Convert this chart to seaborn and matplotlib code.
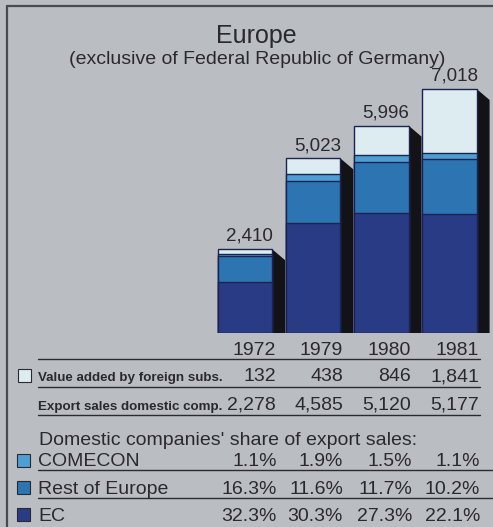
import matplotlib
matplotlib.use("Agg")
import matplotlib.pyplot as plt
from matplotlib.lines import Line2D
from matplotlib.patches import Rectangle, Polygon
import seaborn as sns
import pandas as pd

# ---------------- data ----------------
years = ["1972", "1979", "1980", "1981"]
totals = [2410, 5023, 5996, 7018]
foreign_subs = [132, 438, 846, 1841]
export_domestic = [2278, 4585, 5120, 5177]
share_comecon = [1.1, 1.9, 1.5, 1.1]
share_rest = [16.3, 11.6, 11.7, 10.2]
share_ec = [32.3, 30.3, 27.3, 22.1]
# segment values
seg_ec = [1480, 3172, 3451, 3425]
seg_rest = [747, 1214, 1479, 1581]
seg_comecon = [50, 199, 190, 171]
seg_foreign = [132, 438, 846, 1841]

# ---------------- style ----------------
sns.set_theme(style="white")
plt.rcParams["font.family"] = ["Liberation Sans", "DejaVu Sans"]

BG = "#babdc1"
C_EC = "#2a3b85"
C_REST = "#2c74b2"
C_COM = "#4d9ed2"
C_FOR = "#dcecf1"
EDGE = "#1b2350"
TXT = "#2a2a2e"

W, H = 493, 527
fig = plt.figure(figsize=(W / 100, H / 100), dpi=100, facecolor=BG)

def fx(x):
    return x / W

def fy(y):
    return 1 - y / H

# ---------------- bars ----------------
px_per_unit = 244 / 7018
ax = fig.add_axes([fx(200), fy(333), fx(293), 273 / H])
ax.patch.set_visible(False)

df = pd.DataFrame({
    "year": years,
    "ec": seg_ec,
    "rest": seg_rest,
    "com": seg_comecon,
    "for": seg_foreign,
})
df["c1"] = df["ec"]
df["c2"] = df["c1"] + df["rest"]
df["c3"] = df["c2"] + df["com"]
df["c4"] = df["c3"] + df["for"]

for col, color in [("c4", C_FOR), ("c3", C_COM), ("c2", C_REST), ("c1", C_EC)]:
    sns.barplot(data=df, x="year", y=col, order=years, color=color,
                saturation=1, width=0.8, edgecolor=EDGE, linewidth=1.0,
                errorbar=None, ax=ax, zorder=3)

# shadows (side faces)
dx = 0.19
dy = 11 / px_per_unit
for i, h in enumerate(df["c4"]):
    xr = i + 0.4
    ax.add_patch(Polygon([(xr, h), (xr + dx, h - dy), (xr + dx, 0), (xr, 0)],
                         closed=True, facecolor="#131317", edgecolor="none", zorder=2))
    ax.annotate(f"{totals[i]:,}", (i + 0.07, h), xytext=(0, 6), textcoords="offset points",
                ha="center", va="baseline", fontsize=13.5, color=TXT)

ax.set_xlim(-0.66, 3.64)
ax.set_ylim(0, 273 / px_per_unit)
ax.axis("off")

# ---------------- title ----------------
fig.text(fx(256), fy(43), "Europe", ha="center", va="baseline", fontsize=18, color=TXT)
fig.text(fx(257), fy(64), "(exclusive of Federal Republic of Germany)", ha="center",
         va="baseline", fontsize=14, color=TXT)

# ---------------- frame ----------------
fig.add_artist(Line2D([fx(7), fx(7)], [fy(6), fy(H + 2)], color="#4a4a50", lw=1.6,
                      transform=fig.transFigure))
fig.add_artist(Line2D([fx(7), fx(W + 2)], [fy(6), fy(6)], color="#4a4a50", lw=1.6,
                      transform=fig.transFigure))

# ---------------- table ----------------
col_right = [276, 343, 411, 479]
NUM_FS = 14
LAB_FS = 9.6
narrow = ["Liberation Sans Narrow", "DejaVu Sans Condensed", "Liberation Sans"]

def hline(y, x0, x1):
    fig.add_artist(Line2D([fx(x0), fx(x1)], [fy(y), fy(y)], color="#2a2a30", lw=1.0,
                          transform=fig.transFigure))

def square(x0, y0, size, color):
    fig.add_artist(Rectangle((fx(x0), fy(y0 + size)), size / W, size / H, facecolor=color,
                             edgecolor="#2a2a30", lw=0.8, transform=fig.transFigure))

for x, yr in zip(col_right, years):
    fig.text(fx(x), fy(355), yr, ha="right", va="baseline", fontsize=NUM_FS, color=TXT)
hline(359, 38, 480)

square(18, 369, 13, C_FOR)
fig.text(fx(38), fy(381), "Value added by foreign subs.", ha="left", va="baseline",
         fontsize=LAB_FS, family=narrow, fontweight="bold", color=TXT)
for x, v in zip(col_right, foreign_subs):
    fig.text(fx(x), fy(381), f"{v:,}", ha="right", va="baseline", fontsize=NUM_FS, color=TXT)
hline(387, 38, 480)

fig.text(fx(38), fy(410), "Export sales domestic comp.", ha="left", va="baseline",
         fontsize=LAB_FS, family=narrow, fontweight="bold", color=TXT)
for x, v in zip(col_right, export_domestic):
    fig.text(fx(x), fy(410), f"{v:,}", ha="right", va="baseline", fontsize=NUM_FS, color=TXT)
hline(415, 38, 480)

fig.text(fx(39), fy(445), "Domestic companies' share of export sales:", ha="left",
         va="baseline", fontsize=14, color=TXT)

pct_right = [277, 343, 412, 480]
rows = [("COMECON", share_comecon, C_COM, 466, 454),
        ("Rest of Europe", share_rest, C_REST, 494, 481),
        ("EC", share_ec, C_EC, 521, 508)]
for name, vals, color, yb, ysq in rows:
    square(17, ysq, 13, color)
    fig.text(fx(38), fy(yb), name, ha="left", va="baseline", fontsize=NUM_FS, color=TXT)
    for x, v in zip(pct_right, vals):
        fig.text(fx(x), fy(yb), f"{v:.1f}%", ha="right", va="baseline", fontsize=NUM_FS,
                 color=TXT)
hline(470, 38, W + 2)
hline(498, 38, W + 2)

fig.savefig("out.png", dpi=100, facecolor=BG)
